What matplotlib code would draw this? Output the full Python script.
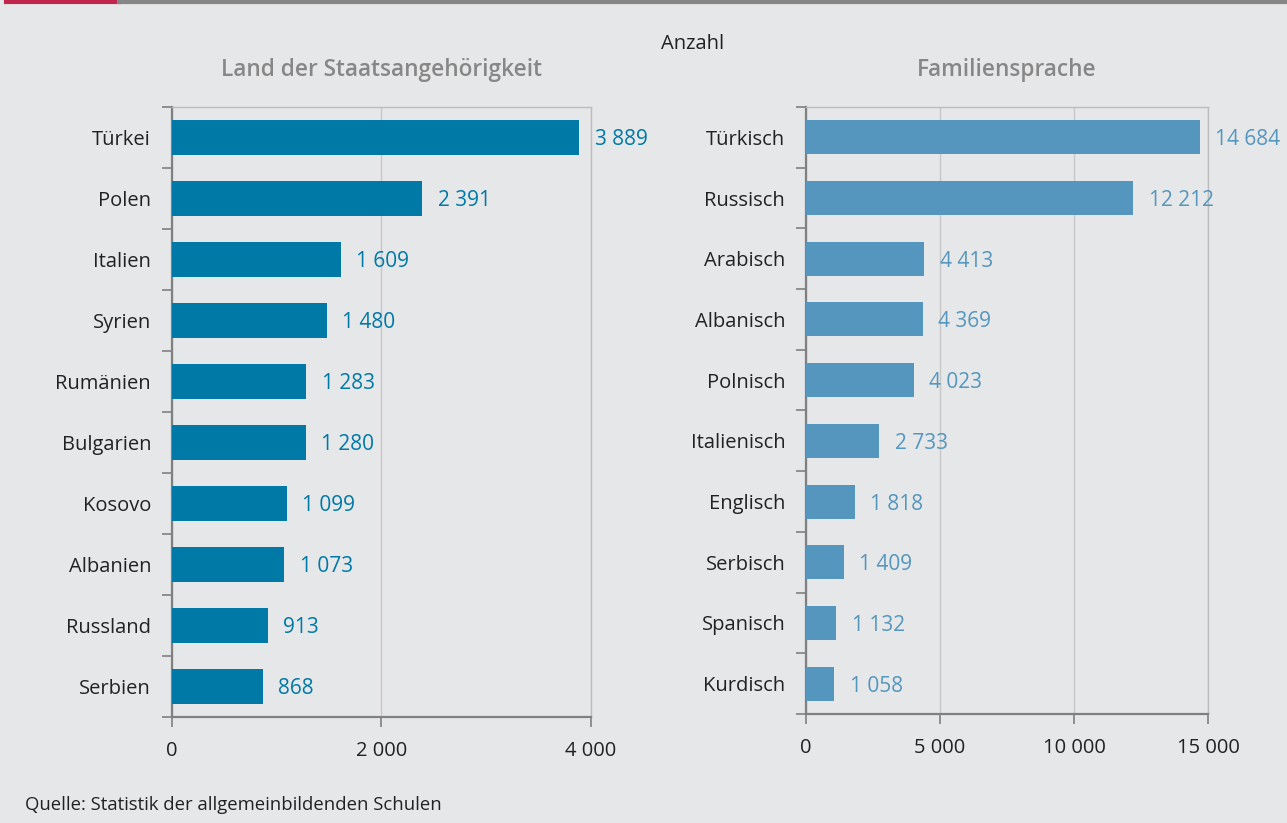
import matplotlib.pyplot as plt
from matplotlib.ticker import FuncFormatter

plt.rcParams['font.family'] = ['Open Sans', 'DejaVu Sans']

# Daten
laender = ["Türkei", "Polen", "Italien", "Syrien", "Rumänien",
           "Bulgarien", "Kosovo", "Albanien", "Russland", "Serbien"]
laender_werte = [3889, 2391, 1609, 1480, 1283, 1280, 1099, 1073, 913, 868]

sprachen = ["Türkisch", "Russisch", "Arabisch", "Albanisch", "Polnisch",
            "Italienisch", "Englisch", "Serbisch", "Spanisch", "Kurdisch"]
sprachen_werte = [14684, 12212, 4413, 4369, 4023, 2733, 1818, 1409, 1132, 1058]

left_ticks = [0, 2000, 4000]
right_ticks = [0, 5000, 10000, 15000]

BG = "#e6e7e9"
DARK = "#222222"


def fmt(v):
    return f"{int(v):,}".replace(",", " ")


def draw_panel(ax, cats, vals, ticks, color, title):
    ax.set_facecolor(BG)
    y = list(range(len(cats)))
    ax.barh(y, vals, height=0.56, color=color, zorder=3)
    ax.set_ylim(len(cats) - 0.5, -0.5)
    ax.set_xlim(ticks[0], ticks[-1])
    ax.set_xticks(ticks)
    ax.xaxis.set_major_formatter(FuncFormatter(lambda v, p: fmt(v)))
    ax.set_yticks(y)
    ax.set_yticklabels(cats)
    ax.set_yticks([i - 0.5 for i in range(len(cats) + 1)], minor=True)
    ax.tick_params(axis='y', which='major', length=0, pad=15, labelsize=14.5, labelcolor=DARK)
    ax.tick_params(axis='y', which='minor', length=7, color="#808080", width=1.2)
    ax.tick_params(axis='x', length=7, color="#808080", width=1.2, pad=10,
                   labelsize=14.5, labelcolor=DARK)
    ax.grid(axis='x', color="#c8c8c8", linewidth=1, zorder=0)
    for s in ['top', 'right']:
        ax.spines[s].set_color("#bdbdbd")
        ax.spines[s].set_linewidth(1)
    for s in ['left', 'bottom']:
        ax.spines[s].set_color("#808080")
        ax.spines[s].set_linewidth(1.6)
    for yi, v in zip(y, vals):
        ax.annotate(fmt(v), (v, yi), xytext=(11, 0), textcoords='offset points',
                    va='center_baseline', ha='left', color=color, fontsize=15, zorder=4,
                    annotation_clip=False)
    ax.set_title(title, color="#878787", fontsize=16.3, fontweight='semibold', pad=22)


fig = plt.figure(figsize=(12.87, 8.23), dpi=100, facecolor=BG)

ax1 = fig.add_axes([0.1336, 0.1288, 0.3256, 0.7412])
ax2 = fig.add_axes([0.6263, 0.1325, 0.3124, 0.7375])

draw_panel(ax1, laender, laender_werte, left_ticks, "#0079a6", "Land der Staatsangehörigkeit")
draw_panel(ax2, sprachen, sprachen_werte, right_ticks, "#5496bd", "Familiensprache")

fig.text(0.538, 0.947, "Anzahl", ha='center', va='center', fontsize=14.5, color=DARK)
fig.text(0.0194, 0.022, "Quelle: Statistik der allgemeinbildenden Schulen",
         ha='left', va='center', fontsize=13.3, color=DARK)

# farbige Linie oben
fig.add_artist(plt.Line2D([0.005, 0.0925], [0.998, 0.998], color="#c0264b", linewidth=3))
fig.add_artist(plt.Line2D([0.0925, 1.0], [0.998, 0.998], color="#858585", linewidth=3))

fig.savefig("out.png", dpi=100, facecolor=BG)
